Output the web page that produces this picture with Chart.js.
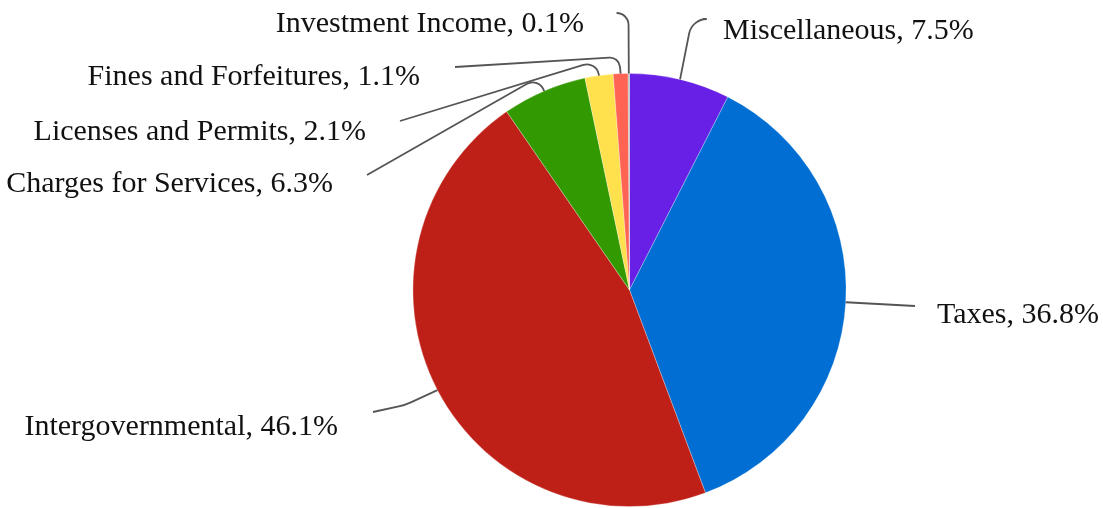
<!DOCTYPE html>
<html>
<head>
<meta charset="utf-8">
<script src="https://cdn.jsdelivr.net/npm/chart.js@4"></script>
<style>
html,body{margin:0;padding:0;background:#fff;}
#wrap{width:1103px;height:508px;position:relative;}
</style>
</head>
<body>
<div id="wrap"><canvas id="c" width="1103" height="508"></canvas></div>
<script>
// ---- data ----
const categories = ["Miscellaneous", "Taxes", "Intergovernmental", "Charges for Services", "Licenses and Permits", "Fines and Forfeitures", "Investment Income"];
const shares = [7.5, 36.8, 46.1, 6.3, 2.1, 1.1, 0.1];
const sliceColors = ["#6820E6", "#006ED3", "#BE2017", "#339900", "#FFE14D", "#FF6354", "#A8B8A0"];

// ---- label layout (positions / style, not data) ----
const labelLayout = [
  {elbow:[692,19], end:[703,19], r:18, text:[723,39], align:"left"},
  {elbow:null, end:[915,306], r:0, text:[937,323], align:"left"},
  {elbow:[405,405], end:[373,412], r:60, text:[338,435], align:"right"},
  {elbow:[539,77], end:[367,175], r:12, text:[333,192], align:"right"},
  {elbow:[596,61], end:[400,121], r:12, text:[366,140], align:"right"},
  {elbow:[619,57], end:[455,67], r:10, text:[420,85], align:"right"},
  {elbow:[628.5,13], end:[618,13], r:12, text:[584,32], align:"right"}
];

const leaderPlugin = {
  id: "leaders",
  afterDatasetsDraw(chart) {
    const ctx = chart.ctx;
    const meta = chart.getDatasetMeta(0);
    ctx.save();
    meta.data.forEach((arc, i) => {
      const L = labelLayout[i];
      const mid = (arc.startAngle + arc.endAngle) / 2;
      const ax = arc.x + Math.cos(mid) * arc.outerRadius;
      const ay = arc.y + Math.sin(mid) * arc.outerRadius;
      ctx.beginPath();
      ctx.strokeStyle = "#555";
      ctx.lineWidth = 1.8;
      ctx.moveTo(ax, ay);
      if (L.elbow) {
        ctx.arcTo(L.elbow[0], L.elbow[1], L.end[0], L.end[1], L.r);
      }
      ctx.lineTo(L.end[0], L.end[1]);
      ctx.stroke();
      ctx.fillStyle = "#111";
      ctx.font = "30px 'Liberation Serif', 'Times New Roman', serif";
      ctx.textAlign = L.align;
      ctx.textBaseline = "alphabetic";
      ctx.fillText(categories[i] + ", " + shares[i].toFixed(1) + "%", L.text[0], L.text[1]);
    });
    ctx.restore();
  }
};

new Chart(document.getElementById("c"), {
  type: "pie",
  data: {
    labels: categories,
    datasets: [{
      data: shares,
      backgroundColor: sliceColors,
      borderColor: "rgba(255,255,255,0.35)",
      borderWidth: 0.8
    }]
  },
  options: {
    responsive: false,
    animation: false,
    layout: {padding: {left: 412, right: 256, top: 73, bottom: 1}},
    plugins: {legend: {display: false}, tooltip: {enabled: false}}
  },
  plugins: [leaderPlugin]
});
</script>
</body>
</html>
